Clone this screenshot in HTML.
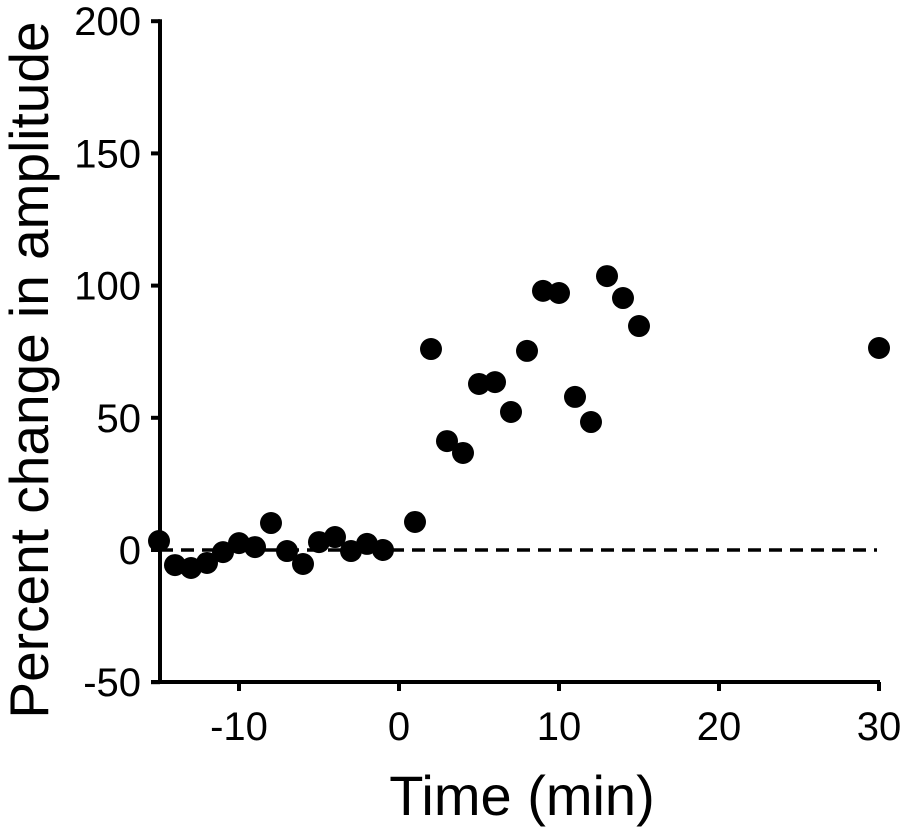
<!DOCTYPE html>
<html><head><meta charset="utf-8"><style>
html,body{margin:0;padding:0;background:#fff;width:900px;height:830px;overflow:hidden}
text{font-family:"Liberation Sans",Arial,sans-serif;fill:#000}
</style></head><body>
<svg id="chart" width="900" height="830" viewBox="0 0 900 830" xmlns="http://www.w3.org/2000/svg"></svg>
<script>
const times=[-15,-14,-13,-12,-11,-10,-9,-8,-7,-6,-5,-4,-3,-2,-1,1,2,3,4,5,6,7,8,9,10,11,12,13,14,15,30];
const values=[3.4,-5.7,-6.8,-4.9,-0.8,2.6,1.1,10.2,-0.4,-5.3,3,4.9,-0.4,2.3,0,10.6,76,41.2,36.7,62.8,63.5,52.2,75.3,98,97.2,57.9,48.4,103.6,95.3,84.7,76.4];
const xTicks=[-10,0,10,20,30];
const yTicks=[-50,0,50,100,150,200];
const NS="http://www.w3.org/2000/svg";
const svg=document.getElementById('chart');
const xS=v=>399+(v)*16;
const yS=v=>550-v*2.644;
function mk(tag,attrs,parent){const e=document.createElementNS(NS,tag);for(const k in attrs)e.setAttribute(k,attrs[k]);(parent||svg).appendChild(e);return e;}
let ya=mk('line',{x1:160,y1:yS(200)-2,x2:160,y2:684,stroke:'#000','stroke-width':4});


let xa=mk('line',{x1:151,y1:682,x2:880,y2:682,stroke:'#000','stroke-width':4});


yTicks.forEach(t=>{
 const y=yS(t);
 let l=mk('line',{x1:151,y1:y,x2:160,y2:y,stroke:'#000','stroke-width':4});
 
 
 let tx=mk('text',{x:141,y:y+14,'text-anchor':'end','font-size':40});
 tx.textContent=t;
 
 
});
xTicks.forEach(t=>{
 const x=xS(t);
 let l=mk('line',{x1:x,y1:682,x2:x,y2:691,stroke:'#000','stroke-width':4});
 
 
 let tx=mk('text',{x:x,y:740,'text-anchor':'middle','font-size':40});
 tx.textContent=t;
 
 
});
let bl=mk('line',{x1:160,y1:yS(0),x2:877,y2:yS(0),stroke:'#000','stroke-width':3.5,'stroke-dasharray':'13,8'});


times.forEach((t,i)=>{
 let c=mk('circle',{cx:xS(t),cy:yS(values[i]),r:11,fill:'#000'});
 
 
});
let xt=mk('text',{x:522,y:815,'text-anchor':'middle','font-size':56});
xt.textContent='Time (min)';


let yt=mk('text',{x:0,y:0,'text-anchor':'middle','font-size':55,transform:'translate(48,370) rotate(-90)'});
yt.textContent='Percent change in amplitude';


</script>
</body></html>
